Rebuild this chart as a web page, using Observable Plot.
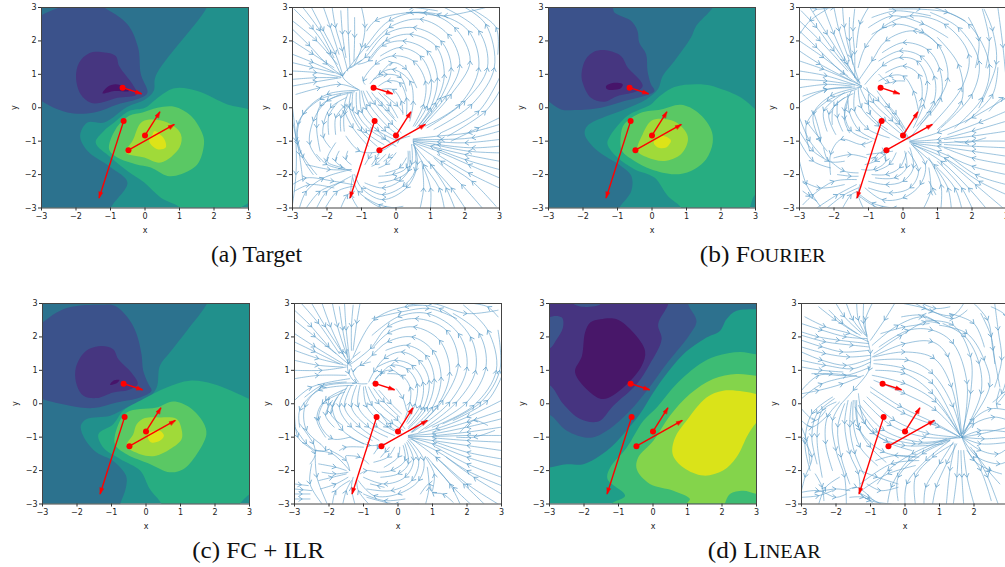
<!DOCTYPE html>
<html><head><meta charset="utf-8">
<script src="https://cdn.jsdelivr.net/npm/d3@7"></script>
<script src="https://cdn.jsdelivr.net/npm/@observablehq/plot@0.6"></script>
<style>
html,body{margin:0;padding:0;background:#fff;width:1005px;height:567px;overflow:hidden;position:relative}
svg{position:absolute;overflow:visible;background:none!important}
.cap{position:absolute;font-family:"Liberation Serif",serif;font-size:22.5px;color:#111;white-space:nowrap;transform-origin:center}
.sc{font-size:18px}
</style></head><body>
<script>
const levelColors=["#47146a","#463680","#3b528b","#2c728e","#21908c","#27ad81","#5ac864","#a0da39","#dde318"];
const dColors=["#481769","#463480","#3b558c","#2d718e","#1f9e89","#3dbc74","#84d44b","#dae319"];
const tickValues=[-3,-2,-1,0,1,2,3];
const redFromX=[-0.65,-0.62,0.0,-0.48], redFromY=[0.6,-0.4,-0.83,-1.27];
const redToX=[-0.1,-1.33,0.43,0.85], redToY=[0.42,-2.7,-0.12,-0.5];

// filled contour regions, painted in order: [level, x,y,x,y,...]
const bandsTarget=[
[3,1.79,3,1.9,3.4,-3.4,3.4,-3.4,-3.4,-1.05,-3.4,-.99,-3,-.51,-2.24,-.99,-1.79,-1.67,-1.29,-1.88,-.84,-1.67,-.44,-1.18,-.44,-.51,.03,-.02,.23,.25,.5,.31,.95],
[2,-3.1,2.65,-2.49,3,-2,3.2,-1.5,3.2,-1.18,3,-.51,2.5,-.2,1.8,-.12,1,.07,.45,-.12,.3,-.8,.1,-1.47,-.14,-2.25,-.14,-3,.2,-3.2,.4,-3.3,1.5],
[1,-1.28,1.67,-.85,1.55,-.75,1.25,-.36,.7,-.24,.4,-.8,.3,-1.28,.15,-1.57,.15,-1.86,.4,-2,.9,-1.91,1.35,-1.62,1.63],
[0,-1.23,.43,-1.09,.62,-.85,.7,-.6,.62,-.46,.5,-.89,.5],
[5,-1.43,-1.04,-1.2,-.7,-.9,-.45,-.46,-.1,.0,.0,.31,.25,.85,.58,1.52,.5,2.39,.1,3,-.05,3.2,-.2,3.3,-2.6,3,-2.85,2.77,-3,2.5,-3.3,1.2,-3.3,1.04,-3,.46,-2.69,-.02,-2.24,-.51,-1.89,-.99,-1.49],
[6,-.46,-.24,-.07,-.14,.36,0,.85,.03,1.33,-.24,1.67,-.79,1.71,-1.09,1.52,-1.69,1.04,-1.99,.65,-2.04,.17,-1.79,-.27,-1.69,-.8,-1.49,-1.04,-1.24,-.85,-.64],
[7,-.07,-.41,.65,-.44,1.04,-.79,1,-1.19,.46,-1.64,-.02,-1.49,-.56,-1.34,-.36,-.99],
[8,.27,-.7,.56,-.94,.6,-1.19,.36,-1.24,.12,-1,.22,-.8]];
const bandsFourier=[
[3,1.76,3,1.28,2.45,1.13,2.1,.65,1.4,.31,.95,.17,.55,-.17,.25,-.8,-.05,-1.29,-.24,-1.87,-.54,-1.95,-.79,-1.58,-1.29,-.9,-1.74,-.6,-2.04,-.6,-2.49,-.95,-3,-1.1,-3.4,-3.4,-3.4,-3.4,3.4,1.9,3.4],
[2,-1.14,3,-1.09,2.85,-.61,2.6,-.42,2.3,-.37,1.95,-.17,1.6,-.13,1.1,-.03,.7,.07,.5,-.22,.35,-.8,.2,-1.48,0,-2.25,-.07,-2.64,-.05,-3,.2,-3.3,.5,-3.4,3.3,-1.3,3.3],
[1,-1.33,1.72,-.9,1.55,-.7,1.2,-.37,.85,-.27,.65,-.42,.5,-1,.35,-1.38,.18,-1.77,.3,-2.01,.75,-2.04,1.05,-1.92,1.45,-1.67,1.68],
[0,-1.33,.65,-1.14,.74,-.85,.7,-.9,.58,-1.19,.53,-1.32,.57],
[5,-1.29,-1.09,-1.24,-.89,-.71,-.24,-.03,.1,.17,.3,.65,.62,1.42,.7,1.9,.6,2.59,.3,3,-.05,3.3,-.3,3.3,-2.7,3,-2.6,2.83,-3,2.7,-3.3,.9,-3.3,.85,-3,.46,-2.64,.07,-2.09,-.51,-1.84,-1,-1.49],
[6,-.8,-.49,-.32,-.15,.26,-.05,.84,.09,1.33,-.14,1.71,-.64,1.76,-1.04,1.57,-1.54,1.13,-1.89,.65,-1.99,-.03,-1.84,-.51,-1.59,-.87,-1.29,-.9,-.79],
[7,.02,-.37,.65,-.41,.99,-.74,1.04,-.99,.84,-1.39,.36,-1.59,-.13,-1.49,-.42,-1.29,-.27,-.79],
[8,.21,-.84,.46,-.89,.55,-.99,.41,-1.19,.17,-1.19,.05,-1.04]];
const bandsFcIlr=[
[3,1.77,3,1.18,2.18,.69,1.53,.4,1.13,.31,.49,.02,.14,-.56,-.11,-1.04,-.36,-1.72,-.46,-1.89,-.66,-1.77,-1.06,-1.43,-1.46,-.95,-1.71,-.58,-2.15,-.58,-2.5,-.75,-3,-.9,-3.4,-3.4,-3.4,-3.4,3.4,1.9,3.4],
[2,-3.2,2.3,-3,2.43,-2.59,2.73,-2.15,2.9,-1.33,2.96,-.9,2.93,-.46,2.48,-.27,2.08,-.13,1.48,-.08,.99,.07,.59,.16,.39,-.17,.19,-.85,.04,-1.52,-.13,-2.2,-.06,-3,.14,-3.3,.3,-3.3,1.5],
[1,-1.28,1.73,-.95,1.63,-.8,1.33,-.42,.93,-.24,.59,-.51,.41,-.95,.34,-1.43,.17,-1.81,.24,-2,.54,-2.05,.99,-1.91,1.38,-1.67,1.63],
[0,-1.04,.57,-.95,.69,-.77,.71,-.85,.61],
[5,-1.38,-.91,-.95,-.61,-.66,-.21,-.08,.14,.6,.49,1.27,.69,1.95,.59,3,.14,3.3,0,3.3,-2.5,3,-2.7,2.72,-3,2.6,-3.3,.5,-3.3,.45,-3,.11,-2.55,-.17,-2,-.75,-1.65,-1.24,-1.31],
[6,-.8,-.61,-.56,-.26,-.17,-.16,.31,-.11,.79,.07,1.27,-.11,1.66,-.56,1.75,-.91,1.47,-1.51,1.08,-1.96,.69,-2.05,.11,-1.8,-.56,-1.51,-.9,-1.21],
[7,-.03,-.43,.4,-.41,.89,-.46,1.03,-.76,1.03,-1.06,.69,-1.36,.26,-1.56,-.17,-1.51,-.56,-1.26,-.37,-.91,-.27,-.61],
[8,.07,-.89,.4,-.81,.52,-.96,.4,-1.11,.16,-1.16,.07,-1.06]];
const bandsLinear=[
[3,-3.4,-2,-3,-1.91,-2.5,-1.81,-2.02,-1.81,-1.34,-1.41,-.86,-.91,-.38,-.31,.01,.34,.39,.89,.88,1.48,1.55,1.98,1.94,2.18,2.13,2.53,2.42,2.78,3,2.83,3.3,2.85,3.4,3.4,-3.4,3.4],
[2,-3,-.33,-2.5,-.81,-1.82,-1.02,-1.34,-.81,-.67,-.21,-.18,.39,.39,1.19,1.07,2.08,1.26,2.48,1.02,2.98,1,3.4,-3.4,3.4,-3.4,-.3],
[1,-3,.56,-2.6,-.01,-2.11,-.46,-1.58,-.53,-1.15,-.06,-.47,.59,-.09,1.19,.25,1.93,.15,2.38,.44,2.98,.5,3.4,-3.4,3.4,-3.4,.6],
[2,-3,2.58,-2.64,2.58,-2.61,2.28,-2.79,1.93,-3,1.66,-3.2,2],
[2,-2.31,3,-2.02,2.9,-1.53,2.98,-1.9,3.2],
[0,-1.53,2.53,-1.05,2.53,-.57,2.13,-.23,1.58,-.33,1.13,-.86,.49,-1.44,.14,-1.82,.34,-2.26,.94,-2.06,1.43,-1.97,2.13,-1.82,2.43],
[5,3,1.48,2.52,1.55,1.84,1.43,1.36,1.19,.68,.59,.11,-.11,-.28,-.51,-.76,-1.31,-1.24,-1.91,-1.32,-2.25,-.81,-2.75,-1.2,-3,-1.2,-3.3,3.3,-3.3,3.3,1.48],
[6,3,.84,2.42,.89,1.74,.74,1.07,.29,.49,-.36,.01,-1.11,-.43,-1.61,-.47,-1.96,-.09,-2.4,.59,-2.6,1.07,-2.85,.97,-3,.9,-3.3,3.3,-3.3,3.3,.84],
[5,2.08,-3,2.23,-2.7,2.61,-2.6,3,-2.7,3.3,-2.8,3.3,-3.3,2,-3.3],
[7,3,.29,2.61,.37,2.03,.39,1.55,.19,.97,-.51,.64,-1.01,.57,-1.51,.88,-1.91,1.46,-2.15,2.03,-2,2.42,-1.6,2.76,-.91,3,-.56,3.3,-.3,3.3,.2]];

// streamlines: x,y,x,y,...
const streamTarget=[
[-2.95,2.95,-2.4,2.35,-1.9,1.6,-1.6,1],[-2.45,3,-2.1,2.3,-1.75,1.6,-1.55,1],[-1.85,3,-1.75,2.4,-1.55,1.7,-1.4,1.1],[-1.4,3,-1.38,2.2,-1.33,1.2],
[-3,2.35,-2.5,1.85,-2,1.3,-1.55,.95],[-3,1.6,-2.4,1.35,-1.55,.95],[-3,1.1,-2.3,1.05,-1.6,.92],[-3,.65,-2.3,.78,-1.6,.9],
[-1,1.42,-1.55,.95,-1.05,.52],[-1,3,-.9,2.4,-1,1.8,-1.2,1.3],
[.78,-.55,1.6,.4,2.15,1.4,1.7,2.4,.8,2.85,-.2,2.6,-.9,1.8,-1.4,1.15],[.7,-.6,1.3,.3,1.6,1.2,1.3,2,.5,2.4,-.3,2.2,-.9,1.5,-1.3,1.2],
[.6,-.6,1,0,1.2,.9,.9,1.7,.2,2,-.4,1.85,-.8,1.4,-1.1,1.3],[.5,-.55,.8,.1,.85,.8,.5,1.4,-.1,1.55,-.6,1.3,-.95,.8,-.9,.7],
[.4,-.4,.5,.2,.4,.8,-.1,1.15,-.5,1,-.75,.72],[.3,-.25,.3,.3,.1,.75,-.25,.8,-.5,.65],[.9,-.6,2,.2,2.65,1.2,2.4,2.3,1.4,3],[1.3,-.75,2.4,-.1,3,.9],
[2.95,1.6,2.9,2.4,2.2,2.95],[2.6,3,1.4,2.75,.4,2.85,-.6,2.6,-.85,2.3],[-.4,3,.5,3,1.2,2.9],[1.6,-1,2.4,-.6,3,-.3],
[3,-.7,2.2,-.9,1.3,-.95,.5,-.95],[3,-1.15,2.2,-1.2,1.2,-1.1,.5,-1],[3,-1.6,2,-1.4,1,-1.15,.5,-1],[3,-2.1,2.1,-1.7,1.2,-1.3,.5,-1.05],
[2.9,-2.95,2.2,-2.2,1.3,-1.6,.5,-1.05],[2,-3,1.6,-2.4,1,-1.7,.5,-1.1],[1.4,-3,1.25,-2.4,.8,-1.7,.5,-1.1],[.5,-1,.62,-1.7,.3,-2.4,-.4,-2.75,-1,-2.4,-1.2,-2],
[.45,-1.1,.45,-1.7,.1,-2.2,-.4,-2.4,-.9,-2.25],[.7,-3,.8,-2.4,.75,-1.6],[0,-3,-.5,-2.9,-1.1,-2.5,-1.25,-2.1],[-1.1,-3,-1.3,-2.6,-1.25,-2],
[.35,-1.3,.3,-1.8,-.1,-2,-.5,-2.05],[0,-1.35,-.3,-1.7,-.5,-1.8],[-.3,-1.4,-.6,-1.7,-.7,-1.75],[-.7,-1.35,-.9,-1.7],[-1.45,-.85,-1.05,-1.3,-.45,-1.3,.1,-.95,.4,-.85],
[-1,.5,-.85,-.05,-.3,-.7,.05,-.9],[-1.15,.45,-1.1,-.2,-.7,-.7,-.2,-1],[-.85,.5,-.6,.1,-.1,-.5,.15,-.75],[-.5,.45,-.15,.05,.05,-.3],[-1.3,.45,-1.35,0,-1,-.7,-.55,-1.15],
[-1.1,.52,-2,.4,-2.7,-.2,-2.85,-1.1,-2.3,-2],[-1.3,.45,-2,.2,-2.4,-.4,-2.5,-1.1,-2.2,-1.6],[-1.45,.3,-1.9,0,-2.1,-.5,-2.1,-.9,-1.9,-1.2],[-1.5,.05,-1.75,-.3,-1.75,-.8],
[-1.3,.15,-1.5,-.2,-1.5,-.7],[-3,0,-2.9,-1,-2.9,-2,-3,-2.9],[-2.8,-3,-2.6,-2.5,-2.1,-2.1,-1.3,-1.85],[-2.3,-3,-2,-2.5,-1.3,-2.05],[-2.6,-1.7,-1.9,-1.85,-1.3,-1.85],
[-1.75,-1.05,-2,-1.6,-1.55,-1.8,-1.3,-1.9],[-1.4,-1.3,-1.45,-1.55,-1.3,-1.7],[-3,-2.3,-2.6,-2.1,-1.8,-2.2,-1.25,-2.3],
[-3,2.6,-2.3,2,-1.7,1.3],[-2.7,3,-2.2,2.3,-1.8,1.5],[-2.1,3,-1.9,2.4,-1.65,1.6],[-1.6,2.9,-1.55,2.2,-1.45,1.5],[-1.2,2.7,-1.2,2.1,-1.22,1.4],[-3,2,-2.4,1.6,-1.8,1.2],[-3,1.35,-2.4,1.2,-1.8,1.05],[-3,.85,-2.3,.9,-1.7,.9],[-2.9,.4,-2.2,.6,-1.6,.7,-1.1,.55],
[.75,-.5,1.45,.35,1.85,1.3,1.5,2.2,.7,2.65,-.2,2.4,-.85,1.7],[.65,-.55,1.15,.15,1.4,1,1.15,1.85,.4,2.2,-.3,2,-.75,1.5],[.55,-.55,.9,.05,1.02,.85,.7,1.55,.1,1.8,-.45,1.55],[.85,-.55,1.85,.1,2.4,1.2,2.1,2.3,1.2,2.8,.3,2.85],[1.1,-.65,2.2,.1,2.85,1.2,2.6,2.5,2,3],[1.5,-.85,2.6,-.1,3,.5],[-.5,.95,-.1,1.35,.3,1.15,.6,.6],[-.65,.85,-.25,1,.15,.9,.3,.5],[.2,-.2,.15,.2,-.1,.55,-.4,.55],
[-.55,.3,-.2,-.1,-.05,-.3],[-.35,.4,.05,.05,.2,-.15],
[3,-.5,2.1,-.75,1.2,-.85,.5,-.93],[3,-.95,2,-1.05,1.2,-1.02,.5,-.97],[3,-1.35,2.1,-1.3,1.1,-1.1],[3,-1.85,2,-1.55,1.1,-1.2],[3,-2.4,2.1,-1.95,1.2,-1.4],[2.5,-3,1.9,-2.3,1.1,-1.5],[1.7,-3,1.45,-2.4,.95,-1.6],[1,-3,1,-2.4,.8,-1.8],
[.55,-1.2,.55,-1.9,.2,-2.35,-.4,-2.6,-.95,-2.35],[.4,-1.3,.35,-1.9,-.05,-2.15,-.5,-2.25],[.3,-1.5,.1,-1.8,-.3,-1.95],[-.5,-1.4,-.7,-1.7],[-.1,-1.4,-.35,-1.6],[.2,-2.95,-.4,-3,-.9,-2.7],
[-1.05,.5,-.98,-.15,-.5,-.7,-.05,-.95],[-.95,.5,-.75,.05,-.2,-.6,.1,-.85],[-.7,.45,-.4,.05,0,-.4],[-1.25,.45,-1.25,-.1,-.85,-.75,-.35,-1.1],[-1.4,.4,-1.5,0,-1.25,-.6,-.8,-1.15],[-.6,-.6,-.3,-.95,0,-1.15],
[-1.2,.48,-2.2,.25,-2.85,-.5,-2.7,-1.5,-2.4,-2],[-1.6,.4,-2.2,.05,-2.3,-.6,-2.2,-1.3],[-1.7,.15,-1.95,-.25,-1.95,-.8],[-1.4,.1,-1.6,-.3,-1.6,-.7],[-3,-.4,-2.8,-1.4,-2.7,-2.2],[-2.95,-2.5,-2.5,-2.3,-1.8,-2.4],[-2.6,-3,-2.2,-2.5,-1.5,-2.2],[-2.05,-3,-1.7,-2.5,-1.25,-2.35],[-1.6,-3,-1.4,-2.6,-1.2,-2.5],[-1.65,-1.3,-1.75,-1.6,-1.5,-1.8],[-2.3,-1.4,-2,-1.7,-1.5,-1.85]];
const streamFourier=[
[-2.95,2.9,-2.5,2.4,-2,1.7,-1.3,.8],[-2.3,3,-2,2.2,-1.6,1.3,-1.3,.75],[-1.75,3,-1.7,2.4,-1.5,1.5,-1.25,.72],[-1.4,2.95,-1.45,2.3,-1.4,1.6,-1.4,.9],[-1,3,-1.25,2.5,-1.35,1.8],
[-3,2.3,-2.5,1.8,-1.7,1,-1.2,.65],[-3,1.7,-2.4,1.3,-1.2,.65],[-3,1.1,-2.2,.95,-1.2,.62],[-3,.6,-2.2,.7,-1.5,.65],[-3,.15,-2.2,.55,-1.4,.62],
[-2.7,3,-2.5,2.95,-2,3,-1.7,3],[.2,-.9,.8,-.1,1.3,.9,1,1.9,.3,2.3,-.5,2,-.9,1.4,-1.3,.8],[.3,-.6,.6,.1,.7,.8,.4,1.4,-.1,1.5,-.6,1.25,-1.1,.7],
[.45,-.1,.3,.5,0,.95,-.4,.95,-.7,.8],[.8,-.55,1.7,.6,1.9,1.6,1.2,2.5,.2,2.75,-.6,2.4,-1.1,1.8,-1.3,1.2],[1.5,-.6,2.3,.3,2.5,1.3,1.9,2.5,.9,3],
[2.75,3,2.9,1.8,3,.7],[2.35,2.95,2.6,2.3,2.7,1.3,2.2,0],[-.4,2.95,.5,2.95,1.3,2.85,1.8,2.6],[-1,2.4,-.3,2.75,.6,2.5,1.3,2.1],[3,.3,2,-.3,1,-.75,.2,-1],
[3,-.4,2,-.7,1,-.95,.2,-1],[3,-1,2,-1,1,-1.05,.2,-1.02],[3,-1.45,2,-1.3,1,-1.15,.2,-1.05],[3,-2,2,-1.75,1,-1.3,.25,-1.05],[3,-2.6,2.2,-2.2,1.2,-1.5,.25,-1.1],
[2.4,-3,1.9,-2.4,1.1,-1.6,.3,-1.1],[1.7,-3,1.5,-2.4,.9,-1.7,.3,-1.15],[1.1,-3,1.1,-2.3,.75,-1.5],[.25,-1.1,.65,-1.7,.5,-2.3,0,-2.7,-.6,-2.75,-1.1,-2.4],
[.2,-1.2,.3,-1.8,0,-2.2,-.5,-2.3,-1,-2.2],[.1,-1.35,-.1,-1.8,-.5,-2,-.9,-2],[.2,-3,-.3,-3,-.9,-2.85,-1.25,-2.6],[-1.15,-3,-1.3,-2.6,-1.25,-2.3],[-.6,-1.2,-.5,-1.6,-.85,-1.85,-1.2,-1.85],
[-.9,-1,-1.2,-1.1,-1.8,-.95,-2.1,-1.4,-2.1,-2],[-1.25,.62,-1,.1,-.5,-.4,.15,-.95],[-1.15,.6,-.7,.2,-.1,-.5,.2,-.95],[-1.4,.5,-1.4,-.1,-1,-.65,-.4,-.9],[-1.5,.5,-1.7,-.1,-1.5,-.7,-1,-.95],
[-1.2,.62,-2.1,.35,-2.6,-.2,-2.4,-1,-2.2,-1.3],[-1.7,.45,-2.3,-.1,-2.2,-.7],[-1.9,.2,-1.9,-.3,-1.75,-.7],[-3,-.3,-2.7,-1,-2.3,-1.5],[-3,-1,-2.6,-1.6,-2.1,-1.8],
[-3,-1.6,-2.8,-2.3,-2.4,-2.95],[-2.9,-2.9,-2.6,-2.6,-2,-2.2,-1.35,-2.15],[-2.2,-3,-1.7,-2.6,-1.3,-2.4],[-2.1,-1.6,-1.7,-1.9,-1.3,-1.95],[-.3,-1.3,-.65,-1.35,-1.05,-1.4],[-.9,-1.6,-.7,-1.35],
[-2.7,3,-2.2,2.2,-1.7,1.4,-1.25,.75],[-3,2.6,-2.4,2,-1.6,1.1],[-2,3,-1.85,2.3,-1.55,1.4],[-1.55,2.7,-1.55,2,-1.45,1.3],[-3,2,-2.3,1.5,-1.6,.95],[-3,1.4,-2.3,1.15,-1.5,.8],[-3,.85,-2.2,.8,-1.4,.68],[-2.9,.35,-2.2,.55,-1.5,.6],[-2.2,2.95,-2.7,2.6,-3,2.2],
[-.9,2.7,-.2,2.9,.8,2.75],[-.9,2.2,-.2,2.5,.6,2.25,1.1,1.8],[.5,-.5,1.1,.3,1.05,1.2,.7,1.75,0,1.95,-.6,1.65],[.4,-.55,.9,.2,.9,.95,.5,1.55,-.1,1.7,-.7,1.4],[.35,-.35,.55,.3,.45,1,0,1.25,-.5,1.05],[1.1,-.6,2,.4,2.2,1.4,1.6,2.4,.8,2.85],[1,-.65,1.7,.2,1.6,1.3,1,2.1],[1.8,-.45,2.6,.4,2.75,1.2],[2.5,-.1,2.9,.3,3,.2],[2.3,2.95,2.5,2,2.4,1.2],[3,-.1,2.2,-.45,1.3,-.8],[1.9,2.7,2.2,2,2.1,1.2],[-.7,1,-.4,.75,-.2,.8,.05,.8],
[3,-.7,2,-.85,1.2,-.95],[3,-1.2,2,-1.15,1.2,-1.1],[2.4,-.9,1.8,-1.05,1.5,-1],[3,-1.7,2,-1.5,1.2,-1.2],[3,-2.3,2.1,-2,1.3,-1.4],[2.9,-3,2.1,-2.3,1.2,-1.5],[2,-3,1.7,-2.4,1,-1.6],[1.4,-3,1.3,-2.4,.95,-1.8],[.6,-3,.8,-2.5,.75,-1.8],[.95,-2.6,.75,-2.2],
[.15,-1.3,.45,-1.9,.2,-2.4,-.4,-2.55,-1,-2.4],[.05,-1.3,.1,-1.8,-.25,-2.1,-.8,-2.1],[-.2,-1.35,-.4,-1.7,-.8,-1.9],[-.1,-3,-.7,-3,-1.2,-2.7],[-.4,-1.3,-.8,-1.6,-1.1,-1.7],
[-1.3,.6,-1.2,0,-.7,-.55,-.1,-.95],[-1.05,.6,-.85,.15,-.3,-.4,.15,-.9],[-.75,.5,-.4,0,0,-.6],[-1,.4,-.95,-.2,-.45,-.65],[-1.6,.4,-1.55,-.15,-1.25,-.7,-.8,-.95],[-.5,.15,-.2,-.2,.1,-.7],
[-1.35,.55,-2.2,.2,-2.8,-.5,-2.7,-1.3],[-1.45,.42,-2,.05,-2.05,-.5],[-1.7,.3,-2.15,-.2,-1.95,-.8],[-1.6,.2,-1.7,-.35,-1.55,-.75],[-2.8,-.4,-2.4,-.9,-2.6,-.1],[-3,-.7,-2.6,-1.3,-2.15,-1.6],[-2.3,-1.2,-2.15,-1.6,-1.7,-1.6],[-2.9,-2.2,-2.4,-2.4,-1.7,-2.3],[-2.5,-3,-1.9,-2.6,-1.35,-2.3],[-1.75,-3,-1.5,-2.6,-1.3,-2.5],[-2,-1.5,-1.5,-1.4,-1.05,-1.5],[-1.9,-2,-1.5,-2.05,-1.3,-2.05],[-2.9,-2.5,-2.5,-2.8]];
const streamFcIlr=[
[-3,2.8,-2.5,2.3,-2,1.7,-1.45,1.2],[-2.5,3,-2.1,2.3,-1.6,1.5,-1.4,1.15],[-1.9,3,-1.75,2.3,-1.5,1.5,-1.35,1.1],[-1.55,3,-1.5,2.2,-1.4,1.3],[-1.1,3,-1.2,2.4,-1.3,1.6],
[-3,2.1,-2.4,1.7,-1.6,1.2],[-3,1.6,-2.3,1.35,-1.5,1.15],[-3,1,-2.2,1,-1.5,1.1],[-1.1,1.55,-1.45,1.2,-1.42,.9,-1.2,.62,-.9,.6],[-.8,1.25,-1.1,1.15,-1.3,.95,-1.15,.65],
[.4,-.85,1.3,.1,1.75,1.2,1.4,2.2,.5,2.55,-.3,2.3,-.8,1.65,-1.35,1.2],[.35,-.8,1,-.1,1.25,.8,1,1.6,.4,2,-.3,1.85,-.75,1.45,-1,1.2],[.3,-.7,.75,-.1,.9,.7,.6,1.3,.1,1.55,-.4,1.35,-.7,.95,-.85,.65],
[.25,-.55,.5,0,.55,.6,.25,1.05,-.2,1.15,-.5,.9,-.75,.6],[.6,-.85,1.7,.05,2.25,1,2.1,2,1.2,2.85,.2,2.9,-.7,2.5,-1.3,1.4],[1,-.7,2.2,-.05,2.85,1,2.6,2.2,1.9,2.95],[1.6,-.5,2.6,.1,3,.8],
[.3,2.95,1,3,2,2.7,2.9,2.8],[3,.1,2,-.4,1.1,-.75,.3,-.95],[3,-.45,2,-.7,1,-.9,.3,-.95],[2.6,-.65,2.2,-.5,1.8,-.85],[3,-.95,2,-.95,1,-.98,.3,-.98],[3,-1.4,2,-1.25,1,-1.1,.3,-1],
[3,-1.9,2,-1.6,1,-1.2,.3,-1],[3,-2.45,2,-2,1.1,-1.4,.35,-1.05],[2.9,-3,2,-2.4,1.1,-1.6,.4,-1.05],[2.1,-3,1.6,-2.5,.85,-1.6],[1.6,-2.95,1.3,-2.7,1,-2.65,.9,-2.4,.65,-2.7],[1,-2.6,1.05,-2.1,.8,-1.6],
[.3,-1.05,.75,-1.7,.6,-2.3,0,-2.7,-.7,-2.75,-1.15,-2.3],[.25,-1.15,.45,-1.7,.2,-2.2,-.4,-2.4,-1,-2.2],[.15,-1.25,.2,-1.7,-.2,-2,-.6,-2.05],[-.1,-1.3,-.3,-1.6,-.7,-1.75],[.6,-3,-.1,-3,-.9,-2.8],[-1.25,-3,-1.35,-2.5,-1.3,-2.2],[-1.95,-1.4,-1.5,-1.7,-1.4,-2],
[-1.2,.55,-1.35,-.1,-.85,-.7,-.3,-1],[-1,.5,-.9,-.1,-.3,-.7,.1,-.9],[-.85,.5,-.55,0,0,-.5,.2,-.75],[-.55,.4,-.2,0,.1,-.3],[-1.45,.55,-1.7,-.1,-1.35,-.7,-.75,-1.1],[-1.25,.62,-2.2,.5,-2.7,-.1,-2.65,-.8,-2.25,-1.2],
[-1.5,.45,-2.1,.1,-2.3,-.5,-1.9,-1.05,-1.4,-1],[-1.75,.2,-1.95,-.3,-1.6,-.65],[-2,.2,-2.05,-.3],[-3,.1,-2.5,.5,-1.4,.75],[-3,-.1,-2.9,-1,-2.4,-1.5,-2.55,-1.8],[-3,-.7,-2.65,-1.2,-2.4,-1.4],[-2.4,-1.4,-1.9,-1.5,-1.4,-2],[-2.5,-1.8,-2.55,-2.4,-2.2,-3],
[-3,-2.4,-2.6,-2.45],[-3,-2.55,-2.5,-2.6],[-3,-2.7,-2.55,-2.7],[-3,-2.85,-2.55,-2.85],[-2.3,-1.8,-1.8,-1.9,-1.5,-2],[-2.3,-2.3,-1.9,-2.2,-1.5,-2.1],[-1.9,-3,-1.8,-2.6,-1.4,-2.3],[-1.4,-1,-.8,-1.25,-.4,-1.2],
[-3,2.5,-2.4,2,-1.8,1.5],[-2.8,3,-2.3,2.4,-1.7,1.5],[-2.2,3,-1.95,2.3,-1.55,1.4],[-1.7,2.9,-1.6,2.2,-1.45,1.4],[-1.3,2.95,-1.35,2.3,-1.35,1.6],[-3,1.85,-2.4,1.55,-1.7,1.2],[-3,1.3,-2.3,1.15,-1.6,1.1],[-3,.75,-2.3,.85,-1.5,.85],
[.42,-.85,1.5,.05,2,1.1,1.75,2.1,.85,2.7,0,2.6,-.75,2.05],[.38,-.85,1.15,-.05,1.5,.95,1.2,1.9,.45,2.3,-.3,2.1,-.7,1.7],[.3,-.75,.85,-.1,1.05,.75,.8,1.45,.25,1.75,-.35,1.6],[.28,-.6,.65,-.05,.72,.65,.4,1.15,-.1,1.3,-.6,1.1],[.2,-.45,.35,.05,.35,.5,.1,.85,-.3,.9],[.8,-.75,2,.05,2.55,1.1,2.35,2.1,1.6,2.7],[1.3,-.6,2.4,.05,2.95,1,2.9,2.2],[-.75,2.55,.1,2.75,.9,2.85,1.7,2.55],[2.9,2.6,2.6,2.9,2.2,3],[-.65,.75,-.45,.95,-.15,1,.1,.8],[-.05,.45,.15,.15,.25,-.2],
[3,-.2,2,-.55,1,-.85],[3,-.7,2,-.85,1.1,-.95],[2.8,-.8,2.2,-1,1.7,-1],[3,-1.15,2,-1.1,1,-1.02],[3,-1.65,2,-1.45,1.1,-1.15],[3,-2.2,2,-1.8,1.1,-1.3],[3,-2.7,2.2,-2.2,1.4,-1.6],[2.5,-3,1.9,-2.4,1.1,-1.6],[1.8,-3,1.5,-2.4,1,-1.8],[.8,-3,.9,-2.5,.85,-1.9],
[.28,-1.1,.6,-1.7,.4,-2.3,-.2,-2.6,-.9,-2.55],[.2,-1.2,.3,-1.8,0,-2.1,-.5,-2.2],[.05,-1.3,0,-1.6,-.4,-1.9],[-.25,-1.3,-.5,-1.6],[-.5,-1.2,-.7,-1.5],[.2,-2.85,-.4,-2.9,-1,-2.7],[-.85,-3,-1.15,-2.6,-1.2,-2.3],[-.4,-2.5,-.8,-2.4],
[-1.1,.55,-1.15,-.1,-.6,-.7,-.1,-.95],[-.95,.52,-.75,-.05,-.15,-.6,.15,-.8],[-.7,.45,-.4,.05,.05,-.4],[-1.35,.55,-1.55,-.1,-1.1,-.7,-.55,-1.1],[-1.6,.4,-1.9,-.1,-1.6,-.8,-1,-1.2],[-.5,-.3,-.2,-.7,.05,-.85],
[-1.3,.55,-2.3,.4,-2.85,-.2,-2.85,-.7],[-1.55,.35,-2.2,0,-2.35,-.5,-2.1,-1],[-1.9,.1,-2.1,-.35,-1.85,-.7],[-2.7,.2,-2.2,.55,-1.5,.65],[-2.85,-.6,-2.45,-1.2,-2.4,-1.4],[-2.25,-1.2,-2.1,-1.4,-2.4,-1.4],[-2.4,-1.55,-2.35,-2.2,-2.05,-3],[-2.2,-2.05,-1.8,-2.1,-1.45,-2.05],[-2.25,-2.55,-1.8,-2.4,-1.45,-2.2],[-1.6,-3,-1.5,-2.6,-1.35,-2.3],[-1.7,-1.4,-1.5,-1.3,-1,-1.3],[-1.5,-1.55,-1.1,-1.6,-.85,-1.8],[-1.1,-2.1,-.9,-2,-.6,-2.05]];
const streamLinear=[
[-3,2.15,-2.5,2,-1.9,1.9,-1.05,1.8],[-2.9,2.6,-2.3,2.3,-1.6,2.1,-1.05,1.85],[-2.2,2.8,-1.8,2.4,-1.3,2.05],[-1.7,3,-1.5,2.5,-1.15,2.05],[-1.4,3,-1.35,2.5,-1.1,2],[-.95,3,-1.15,2.5,-1.1,2],
[-3,1.9,-2.4,1.7,-1.8,1.55,-1.05,1.6],[-3,1.55,-2.4,1.3,-1.7,1.15,-1,1.35],[-3,1.1,-2.4,1,-1.8,.95],[-3,.4,-2.5,.85,-1.7,.85,-1,1.1],[-3,.15,-2.4,.6,-1.4,.85],
[-1.1,1.95,-1,1.5,-1.05,1,-1.5,.4,-1.85,0],[-.3,3,-.6,2.5,-1,1.9],[-.95,1.75,-.2,2.35,.5,2.6,1,2.4],[-.9,1.5,-.1,2.05,.6,2.45,1,2.4],[1,2.4,.5,2.65,-.1,2.6],[.3,3,.8,2.75,1.4,2.65,1.7,3],[.5,3,.9,2.85,1.3,2.9],
[-.95,1.4,0,1.8,.8,1.85,1.25,1.4,1.65,-1],[-.9,1.3,.1,1.3,.8,.9,1.4,-.1,1.65,-1],[-.85,1,0,.9,.8,.3,1.6,-.95],[-.9,.7,0,.3,.9,-.2,1.6,-.95],[-1,.5,-.1,-.1,.9,-.6,1.6,-1],[-1.1,.2,-.3,-.5,.7,-.9,1.6,-1],[-1.3,-.05,-.6,-.8,.5,-1.15,1.5,-1],
[-1.45,-.1,-.9,-.9,0,-1.25,1.1,-1.2],[-1.4,.1,-1.3,-.8,-.6,-1.45,.3,-1.6],[1,2.35,1.8,2.1,2.3,1.3,2.45,.5,1.65,-.9],[.6,2.5,1.4,2.35,1.9,1.4,1.9,.3,1.65,-.9],[2,3,2.4,2.5,2.55,1.6,2.75,.5],[2.5,2.9,2.95,2.6,3,1.6],
[1.65,-1,2,-.6,2.6,-.4,3,-.5],[1.65,-1,2.2,-.9,3,-.7],[1.65,-1,2.3,-1.05,3,-1],[1.65,-1,2.2,-1.4,2.7,-1.5,3,-1.3],[1.65,-1,2,-1.7,2.5,-2,2.8,-2.1],[2,-1.4,2.4,-2.2,2.7,-3],[1.7,-1.4,1.8,-2.2,2,-3],[1.55,-1.4,1.5,-2.2,1.4,-3],[1.5,-1.2,1.2,-1.8,.9,-2.5,.8,-3],
[1.4,-1.2,.8,-1.6,.3,-2.2,.3,-3],[1.3,-1.1,.5,-1.5,-.2,-2.2,-.2,-2.9],[1.2,-1.05,.2,-1.5,-.5,-2,-.8,-2.4],[.4,-1.7,-.4,-1.8,-1.3,-2.4],[-1.35,-2.65,-.7,-3],[-1.3,-2.7,-1,-2.9,-.4,-3],
[-1.85,0,-2.1,-.5,-2,-1.4,-1.75,-2.2,-1.7,-3],[-1.65,.1,-1.75,-.6,-1.6,-1.5,-1.35,-2.1,-1.3,-2.6],[-1.5,.1,-1.5,-.6,-1.3,-1.3,-.8,-1.85],[-2,.05,-2.4,-.2,-2.55,-1,-2.4,-2.2],[-2.1,.2,-2.7,-.3,-2.9,-1.2,-2.75,-2],[-3,-.5,-2.7,-.7,-2.2,-.3],[-3,-1,-2.7,-1.6,-2.9,-2.2,-3,-2.6],
[-3,-2.65,-2.5,-2.6,-2,-2.8,-1.7,-2.7],[-2.5,-3,-2.3,-2.5,-1.9,-2.2],[-1.7,-2.6,-1.4,-2.5,-.9,-2.9],[-1.3,-2,-.8,-2.2,-.2,-2.4],
[-3,2.4,-2.4,2.2,-1.7,2,-1.1,1.95],[-2.5,2.9,-2,2.5,-1.4,2.1],[-2,3,-1.75,2.6,-1.25,2.1],[-1.2,3,-1.2,2.4,-1.1,2.05],[-3,2.05,-2.3,1.85,-1.5,1.75,-1.05,1.7],[-3,1.7,-2.3,1.5,-1.6,1.4,-1,1.45],[-3,1.3,-2.3,1.15,-1.5,1.05,-1,1.25],[-2.7,.9,-2.1,.9,-1.3,.8],[-3,.3,-2.5,.4,-1.8,.6,-1.2,.85],
[-.9,1.2,0,1.05,.8,.6,1.6,-.95],[-.95,.85,0,.6,.9,.05,1.6,-.95],[-.9,1.4,0,1.55,.85,1.35,1.35,.5,1.62,-.95],[-1,.35,0,-.3,1,-.7,1.6,-1],[-1.2,.1,-.4,-.65,.6,-1,1.6,-1.02],[-1.35,-.05,-.8,-.85,.3,-1.2,1.3,-1.08],[-1.35,.3,-1.15,-.6,-.5,-1.15,.2,-1.4],
[-.75,1.7,.1,2.2,.8,2.2,1.4,1.8,1.8,.6,1.68,-.9],[-.7,2.1,0,2.3,.7,2.4],[1.1,2.4,1.75,2,2.15,1.2,2.2,.3,1.7,-.9],[-.05,3,.6,2.85,1.4,2.55,1.8,2.8],[1.3,2.7,2,2.4,2.3,1.7],[2.6,3,2.7,2.2,2.8,1.3,2.6,.5],[2.2,2.7,2.5,2,2.6,1.2],[3,1,2.8,.3,2.55,.05],[2.9,.3,2.65,0,2.75,.45],
[1.65,-1,2,-.45,2.5,-.15,3,-.2],[1.65,-1,2.2,-.8,3,-.85],[1.65,-1,2.2,-1.2,3,-1.15],[1.65,-1,2.1,-1.6,2.75,-1.8,3,-1.7],[1.8,-1.4,2.2,-2,2.5,-2.9],[1.9,-1.3,2.45,-2.05,2.75,-2.4],[1.62,-1.4,1.65,-2.2,1.7,-3],[1.45,-1.2,1.3,-2,1.2,-3],[1.4,-1.15,1,-1.8,.6,-2.5,.55,-3],[1.3,-1.1,.6,-1.7,.05,-2.4,0,-3],[1.2,-1.1,.1,-1.7,-.4,-2.5,-.5,-2.95],[.3,-1.85,-.5,-2.1,-1.2,-2.55],[.4,-1.6,-.3,-1.55,-.85,-1.7],
[-1.75,0,-1.95,-.7,-1.85,-1.6,-1.6,-2.4],[-1.55,.05,-1.6,-.7,-1.45,-1.5,-1.2,-2.1],[-1.45,.1,-1.35,-.7,-1,-1.3,-.55,-1.75],[-1.9,.05,-2.25,-.4,-2.3,-1.2,-2.1,-2],[-2.05,.15,-2.55,-.3,-2.7,-1,-2.55,-1.8],[-3,-.15,-2.6,-.5,-2.3,-.2],[-3,-.7,-2.85,-1.1,-2.75,-1.8],[-2.6,-2.1,-2.4,-2.5,-2.35,-2.9],[-3,-2.8,-2.5,-2.75,-2.1,-2.6],[-2.6,-2.65,-2,-2.55,-1.6,-2.6],[-1.6,-2.8,-1.2,-2.8,-.9,-3],[-1.1,-2.4,-.7,-2.6,-.2,-2.5]];

const toPoints=(flat,id)=>d3.range(0,flat.length,2).map(i=>({x:flat[i],y:flat[i+1],id}));
const chevron={draw(c){c.moveTo(-2.3,3.4);c.lineTo(0,0);c.lineTo(2.3,3.4);}};
const redHead={draw(c){c.moveTo(0,0);c.lineTo(-2,6);c.lineTo(2,6);c.closePath();}};
const rotationOf=(dx,dy)=>Math.atan2(dx,dy)*180/Math.PI;

function panel(left,top,kind,data,colors){
  const marks=[];
  if(kind==="field"){
    data.forEach(([lvl,...flat],i)=>marks.push(Plot.line(toPoints(flat,i),{x:"x",y:"y",curve:"catmull-rom-closed",fill:colors[lvl],stroke:"none",clip:true})));
  }else{
    const lines=data.flatMap((f,i)=>toPoints(f,i));
    marks.push(Plot.line(lines,{x:"x",y:"y",z:"id",curve:"catmull-rom",stroke:"#5a9cc8",strokeWidth:.6,clip:true}));
    const heads=[];
    data.forEach(f=>{const n=f.length/2;
      if(n===2){heads.push({x:(f[0]+f[2])/2,y:(f[1]+f[3])/2,r:rotationOf(f[2]-f[0],f[3]-f[1])});return;}
      for(let i=1;i<n-1;i++){heads.push({x:f[2*i],y:f[2*i+1],r:rotationOf(f[2*i+2]-f[2*i-2],f[2*i+3]-f[2*i-1])});}
    });
    marks.push(Plot.vector(heads,{x:"x",y:"y",rotate:"r",length:1,anchor:"start",shape:chevron,stroke:"#5a9cc8",strokeWidth:.7,clip:true}));
  }
  const red=redFromX.map((_,i)=>({x1:redFromX[i],y1:redFromY[i],x2:redToX[i],y2:redToY[i],r:rotationOf(redToX[i]-redFromX[i],redToY[i]-redFromY[i])}));
  marks.push(Plot.link(red,{x1:"x1",y1:"y1",x2:"x2",y2:"y2",stroke:"#f00",strokeWidth:1.4}));
  marks.push(Plot.vector(red,{x:"x2",y:"y2",rotate:"r",length:1,anchor:"start",shape:redHead,fill:"#f00",stroke:"#f00",strokeWidth:.4}));
  marks.push(Plot.dot(red,{x:"x1",y:"y1",r:3,fill:"#f00",stroke:"none"}));
  marks.push(Plot.frame({stroke:"#444",strokeWidth:1,fill:"none"}));
  marks.push(Plot.axisX(tickValues,{tickSize:3,tickPadding:2,fontSize:8,tickFormat:d3.format("d"),label:"x",labelAnchor:"center",labelArrow:"none",labelOffset:25,stroke:"#333",fill:"#222"}));
  marks.push(Plot.axisY(tickValues,{tickSize:3,tickPadding:2,fontSize:8,tickFormat:d3.format("d"),label:"y",labelAnchor:"center",labelArrow:"none",labelOffset:30,stroke:"#333",fill:"#222"}));
  const svg=Plot.plot({width:252,height:238,marginLeft:40,marginRight:5,marginTop:7,marginBottom:30.5,
    x:{domain:[-3,3]},y:{domain:[-3,3]},style:{background:"none",fontFamily:"'DejaVu Sans',sans-serif",fontSize:"8px",overflow:"visible"},marks});
  if(kind==="field"){const bg=svg.insertBefore(document.createElementNS("http://www.w3.org/2000/svg","rect"),svg.firstChild.nextSibling);
    bg.setAttribute("x",40);bg.setAttribute("y",7);bg.setAttribute("width",207);bg.setAttribute("height",200.5);bg.setAttribute("fill",colors[4]);}
  svg.style.left=(left-40)+"px";svg.style.top=(top-7)+"px";
  document.body.appendChild(svg);
}
panel(40.5,6.8,"field",bandsTarget,levelColors);
panel(292.3,6.8,"stream",streamTarget);
panel(547.7,6.8,"field",bandsFourier,levelColors);
panel(799.3,6.8,"stream",streamFourier);
panel(42.3,302.7,"field",bandsFcIlr,levelColors);
panel(294.3,302.7,"stream",streamFcIlr);
panel(549.3,302.7,"field",bandsLinear,dColors);
panel(801,302.7,"stream",streamLinear);

function cap(x0,x1,y,html){const d=document.createElement("div");d.className="cap";d.style.top=y+"px";d.innerHTML=html;document.body.appendChild(d);
  const w=d.getBoundingClientRect().width;d.style.left=(x0+x1)/2-w/2+"px";d.style.transform="scaleX("+((x1-x0)/w)+")";}
cap(211,302,242,"(a) Target");
cap(700,826,242,'(b) F<span class="sc">OURIER</span>');
cap(192,324,538,"(c) FC + ILR");
cap(708,821,538,'(d) L<span class="sc">INEAR</span>');
</script>
</body></html>
